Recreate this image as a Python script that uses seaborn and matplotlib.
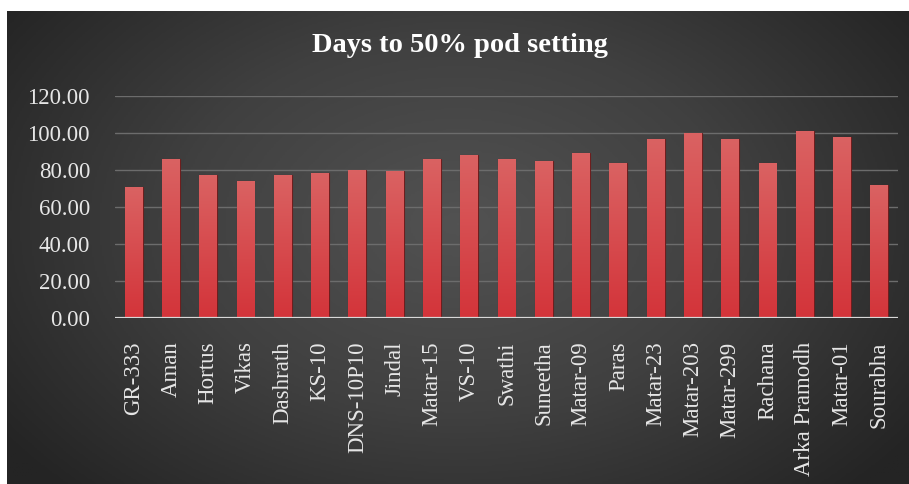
import numpy as np
import pandas as pd
import matplotlib
matplotlib.use("Agg")
import matplotlib.pyplot as plt
from matplotlib.colors import LinearSegmentedColormap
import seaborn as sns

varieties = ["GR-333", "Aman", "Hortus", "Vikas", "Dashrath", "KS-10", "DNS-10P10",
             "Jindal", "Matar-15", "VS-10", "Swathi", "Suneetha", "Matar-09", "Paras",
             "Matar-23", "Matar-203", "Matar-299", "Rachana", "Arka Pramodh",
             "Matar-01", "Sourabha"]
days = [70.5, 85.6, 77.0, 73.7, 77.0, 78.2, 80.0, 79.1, 85.6, 87.8, 85.6, 84.5,
        88.9, 83.5, 96.4, 99.7, 96.4, 83.5, 100.8, 97.5, 71.6]
yticks = [0, 20, 40, 60, 80, 100, 120]
title = "Days to 50% pod setting"

df = pd.DataFrame({"variety": varieties, "days": days})

sns.set_theme(style="dark")
plt.rcParams["font.family"] = ["Liberation Serif", "DejaVu Serif"]

W, H = 909, 484
fig = plt.figure(figsize=(W / 100, H / 100), dpi=100)
fig.patch.set_facecolor("white")

# radial gradient background
bg = fig.add_axes([7 / W, 0, 1 - 7 / W, (H - 11) / H], zorder=0)
yy, xx = np.mgrid[0:1:300j, 0:1:500j]
r = np.sqrt(((xx - 0.5) / 0.62) ** 2 + ((yy - 0.45) / 0.8) ** 2)
r = np.clip(r, 0, 1)
bgcmap = LinearSegmentedColormap.from_list("bg", ["#525252", "#404040", "#242424"])
bg.imshow(r, cmap=bgcmap, aspect="auto", extent=[0, 1, 0, 1], vmin=0, vmax=1)
bg.set_axis_off()

left, right = 115 / W, 898 / W
bottom, top = (H - 317.7) / H, (H - 95.7) / H
ax = fig.add_axes([left, bottom, right - left, top - bottom], zorder=1)
ax.set_facecolor("none")

sns.barplot(data=df, x="variety", y="days", ax=ax, width=0.48,
            color="#d24545", edgecolor="#6e1e1e", linewidth=0.8, zorder=3)

# vertical gradient on each bar
barcmap = LinearSegmentedColormap.from_list("bar", ["#d3343a", "#da6262"])
grad = np.linspace(0, 1, 100).reshape(-1, 1)
for p in ax.patches:
    x0, w, h = p.get_x(), p.get_width(), p.get_height()
    im = ax.imshow(grad, cmap=barcmap, aspect="auto", origin="lower",
                   extent=[x0, x0 + w, 0, h], zorder=3.5)
    im.set_clip_path(p)

ax.set_xlim(-0.5, len(varieties) - 0.5)
ax.set_ylim(0, 120)
ax.set_yticks(yticks)
ax.set_yticklabels([f"{v:.2f}" for v in yticks])
ax.grid(axis="y", color="#6c6c6c", linewidth=1.0, zorder=1)
ax.grid(axis="x", visible=False)
ax.axhline(0, color="#d8d8d8", linewidth=1.6, zorder=4)
for s in ax.spines.values():
    s.set_visible(False)
ax.set_xlabel("")
ax.set_ylabel("")
ax.tick_params(axis="y", length=0, pad=18, labelsize=16.5, labelcolor="#e6e6e6")
ax.tick_params(axis="x", length=0, pad=17, labelsize=16.5, labelcolor="#e6e6e6",
               labelrotation=90)

fig.text(0.506, (H - 46) / H, title, ha="center", va="center", color="white",
         fontsize=20.5, fontweight="bold")

fig.savefig("out.png", dpi=100)
